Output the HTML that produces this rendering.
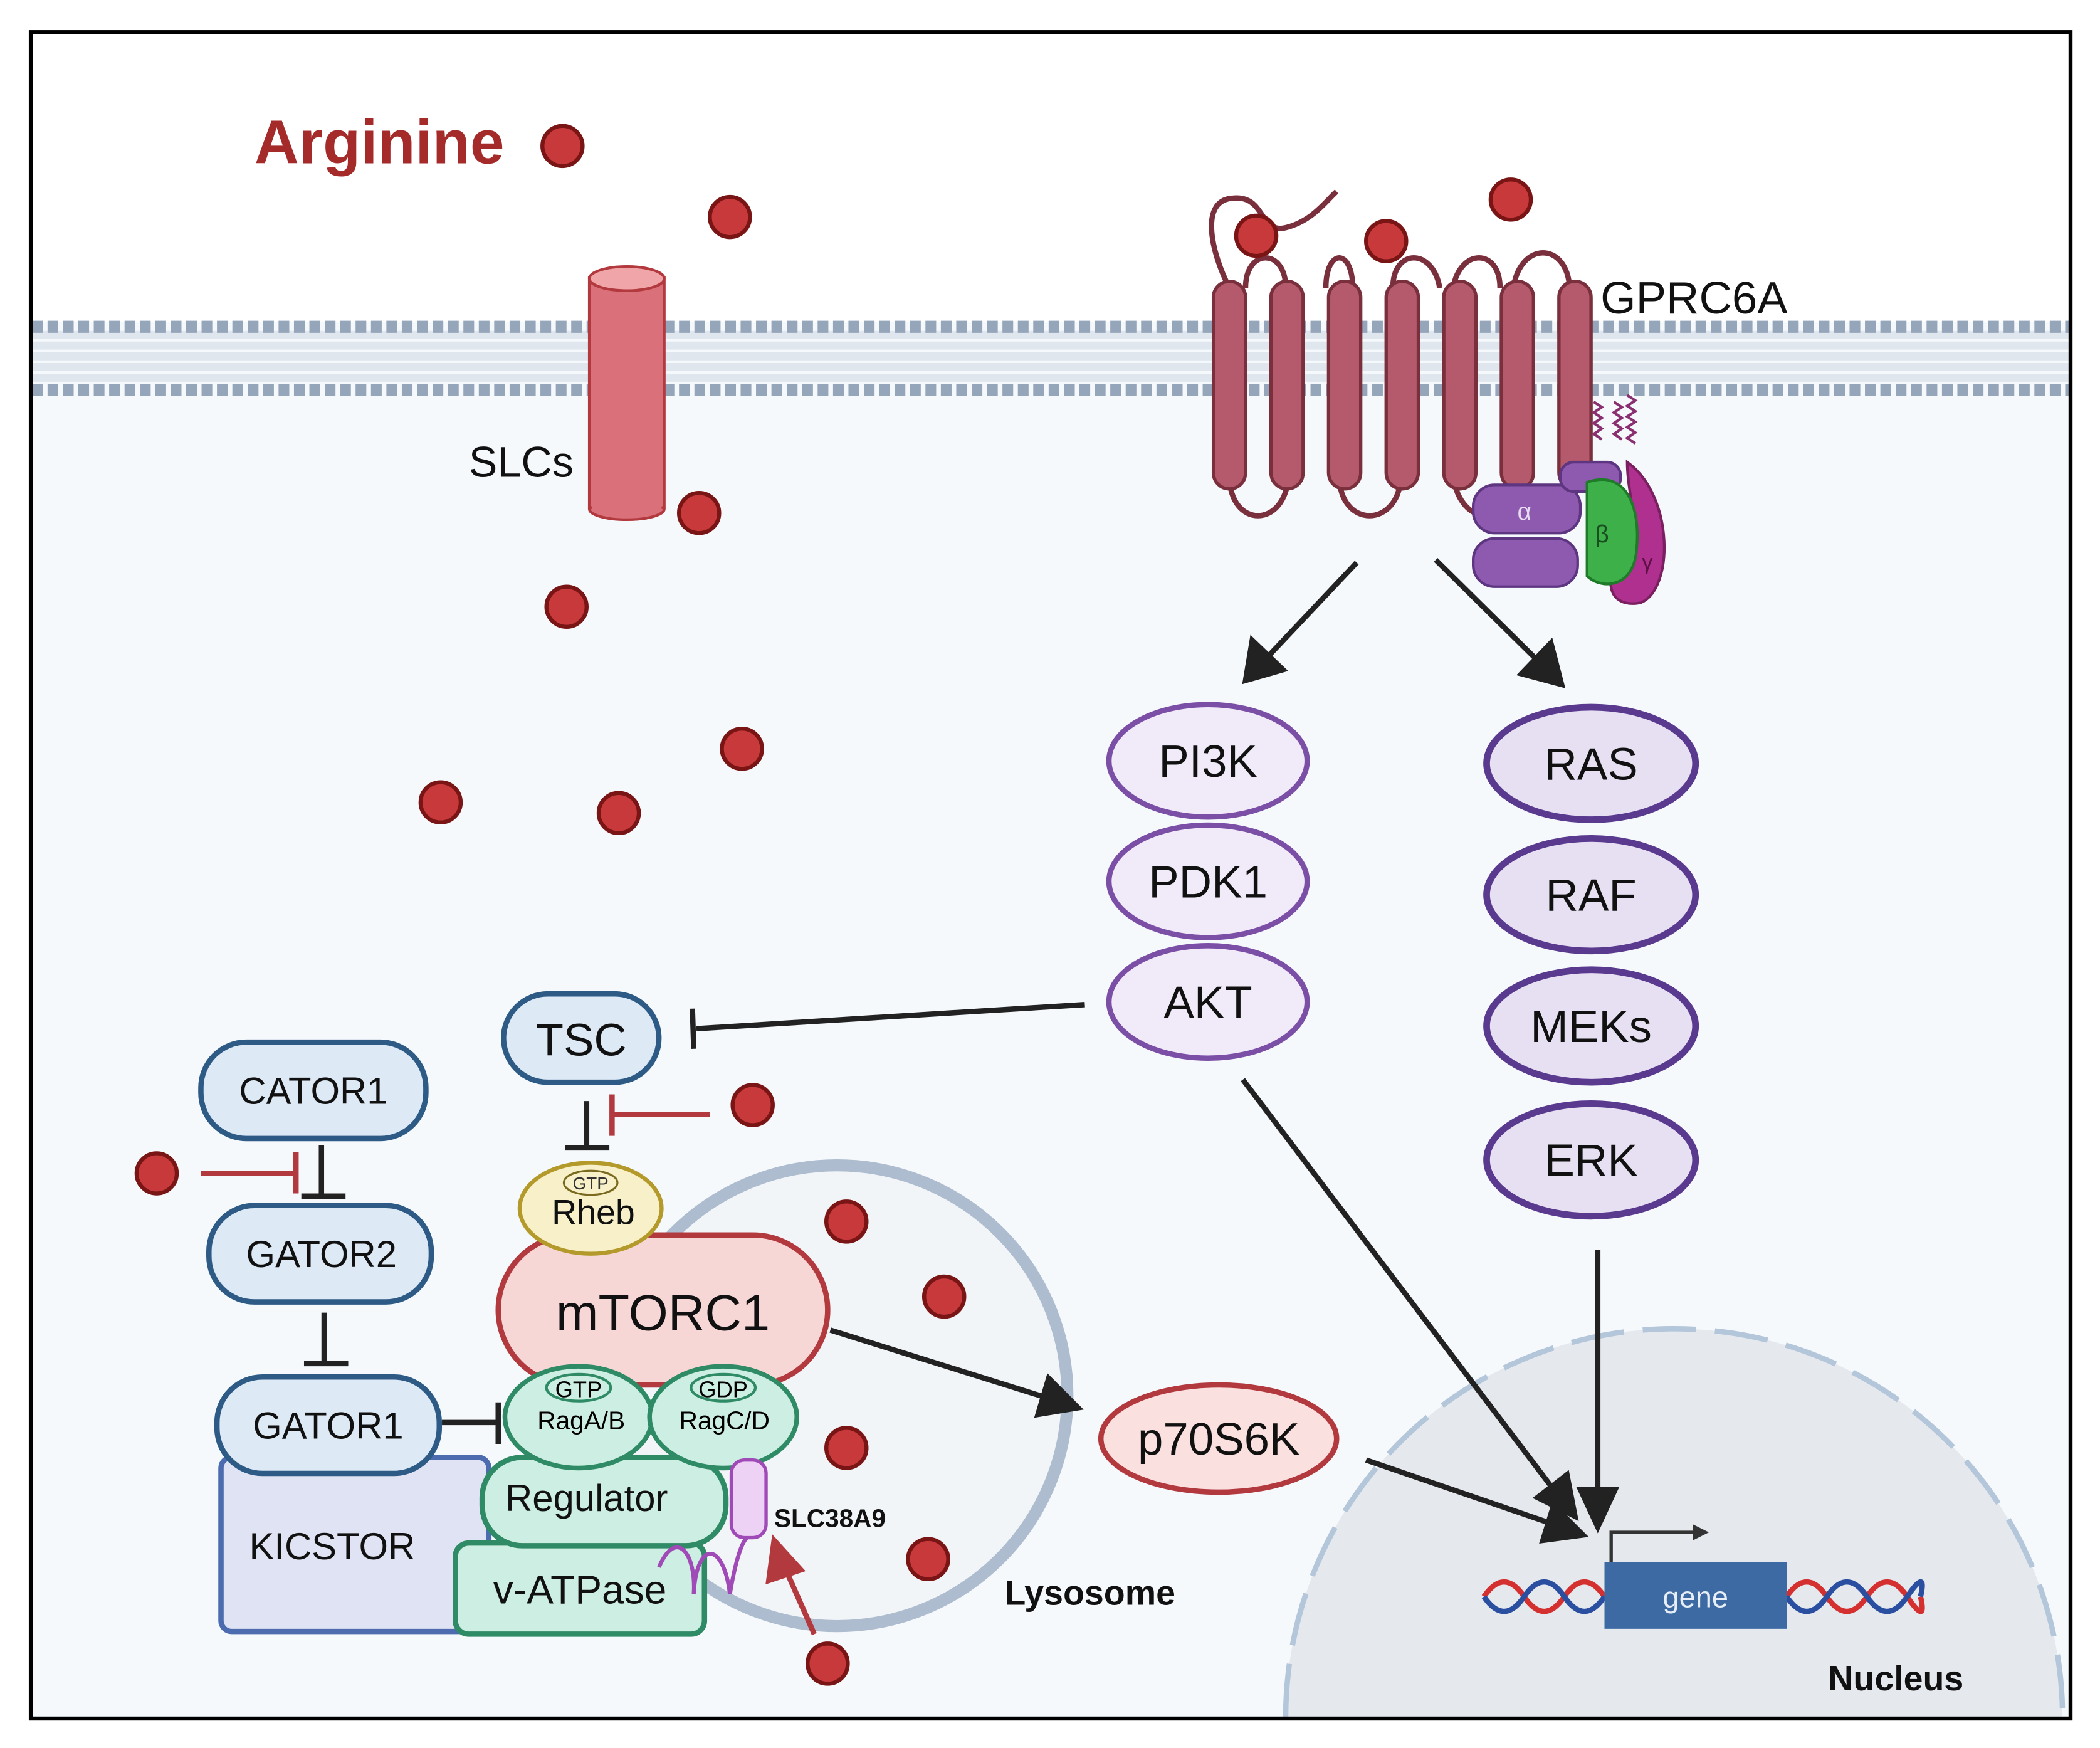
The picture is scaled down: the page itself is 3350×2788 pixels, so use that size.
<!DOCTYPE html>
<html><head><meta charset="utf-8"><style>html,body{margin:0;padding:0;background:#fff;width:3350px;height:2788px;overflow:hidden}svg{display:block}text{font-family:"Liberation Sans",sans-serif}</style></head>
<body>
<svg width="3350" height="2788" viewBox="0 0 1568 1305" preserveAspectRatio="none" xmlns="http://www.w3.org/2000/svg">
<rect x="0" y="0" width="1568" height="1305" fill="#fff"/>
<rect x="24" y="240" width="1521" height="1042" fill="#f5f9fc"/>
<path d="M24 250 H1545 M24 258 H1545 M24 266 H1545 M24 274 H1545 M24 282 H1545" stroke="#dfe6ee" stroke-width="6"/>
<line x1="24" y1="244" x2="1545" y2="244" stroke="#95a5ba" stroke-width="9" stroke-dasharray="8 3.5"/>
<line x1="24" y1="291" x2="1545" y2="291" stroke="#95a5ba" stroke-width="9" stroke-dasharray="8 3.5"/>
<!-- nucleus -->
<path d="M960 1282 A290 290 0 0 1 1540 1282 Z" fill="#e5e9ee"/>
<path d="M960 1282 A290 290 0 0 1 1540 1282" fill="none" stroke="#b4c6da" stroke-width="4" stroke-dasharray="40 14"/>
<!-- lysosome -->
<circle cx="625" cy="1042" r="172" fill="#f2f5f8" stroke="#aebcd0" stroke-width="9"/>
<!-- SLC -->
<ellipse cx="468" cy="380" rx="28" ry="8" fill="#d9707a" stroke="#b23a3f" stroke-width="2"/>
<rect x="440" y="207" width="56" height="172" fill="#d9707a" stroke="#b23a3f" stroke-width="2"/>
<rect x="442" y="207" width="52" height="174" fill="#d9707a"/>
<ellipse cx="468" cy="208" rx="28" ry="9" fill="#f0a5a8" stroke="#b23a3f" stroke-width="2"/>
<text x="350" y="356" font-size="32" fill="#111">SLCs</text>
<!-- GPCR -->
<g fill="none" stroke="#7a2f3d" stroke-width="4">
<path d="M918 215 C905 190 895 150 920 148 C945 145 940 175 960 170 C980 165 990 150 998 143"/>
<path d="M930 215 C930 185 960 185 960 215 M990 215 C990 185 1010 185 1010 215 M1040 215 C1040 185 1070 185 1075 215 M1085 215 C1090 185 1120 185 1120 215 M1130 215 C1135 180 1170 180 1172 215"/>
<path d="M918 355 C918 395 960 395 962 355 M1000 355 C1000 395 1045 395 1046 355 M1085 355 C1090 395 1130 395 1132 355"/>
</g>
<g fill="#b45a6c" stroke="#7a2f3d" stroke-width="2.5">
<rect x="906" y="210" width="24" height="155" rx="12"/>
<rect x="949" y="210" width="24" height="155" rx="12"/>
<rect x="992" y="210" width="24" height="155" rx="12"/>
<rect x="1035" y="210" width="24" height="155" rx="12"/>
<rect x="1078" y="210" width="24" height="155" rx="12"/>
<rect x="1121" y="210" width="24" height="155" rx="12"/>
<rect x="1164" y="210" width="24" height="155" rx="12"/>
</g>
<text x="1195" y="234" font-size="34" fill="#111">GPRC6A</text>
<path d="M1190 300 l6 4 -6 4 6 4 -6 4 6 4 -6 4 6 4 M1205 300 l6 4 -6 4 6 4 -6 4 6 4 -6 4 6 4 M1215 295 l6 4 -6 4 6 4 -6 4 6 4 -6 4 6 4 -6 4 6 4" fill="none" stroke="#8a3070" stroke-width="2"/>
<path d="M1215 345 C1250 370 1250 440 1225 450 C1200 455 1195 430 1215 410 C1225 390 1215 370 1215 345Z" fill="#b0308f" stroke="#7a1f60" stroke-width="2"/>
<g fill="#8e5ab0" stroke="#5e3580" stroke-width="2">
<rect x="1100" y="362" width="80" height="36" rx="16"/>
<rect x="1100" y="402" width="78" height="36" rx="16"/>
<rect x="1165" y="345" width="45" height="22" rx="10"/>
</g>
<path d="M1185 360 C1215 350 1225 380 1222 410 C1220 440 1195 440 1185 430 Z" fill="#3db04a" stroke="#1f7a2a" stroke-width="2"/>
<text x="1133" y="388" font-size="18" fill="#e8dcf2">α</text>
<text x="1191" y="405" font-size="18" fill="#1a4d20">β</text>
<text x="1226" y="425" font-size="16" fill="#5e1045">γ</text>
<g stroke="#222" stroke-width="4" fill="#222">
<line x1="1013" y1="420" x2="945" y2="492"/><path d="M930 508 L935 478 L958 500Z"/>
<line x1="1072" y1="418" x2="1150" y2="495"/><path d="M1166 511 L1136 503 L1158 480Z"/>
<line x1="810" y1="750" x2="520" y2="768"/><line x1="517" y1="753" x2="518" y2="783"/>
<line x1="928" y1="806" x2="1160" y2="1112"/><path d="M1176 1132 L1148 1118 L1170 1101Z"/>
<line x1="1193" y1="933" x2="1193" y2="1120"/><path d="M1193 1140 L1180 1112 L1206 1112Z"/>
<line x1="1020" y1="1090" x2="1160" y2="1138"/><path d="M1182 1146 L1152 1150 L1160 1124Z"/>
<line x1="620" y1="993" x2="780" y2="1043"/><path d="M805 1051 L775 1056 L783 1029Z"/>
<line x1="438" y1="822" x2="438" y2="855"/><line x1="422" y1="857" x2="455" y2="857"/>
<line x1="240" y1="855" x2="240" y2="892"/><line x1="225" y1="893" x2="258" y2="893"/>
<line x1="242" y1="980" x2="242" y2="1017"/><line x1="227" y1="1018" x2="260" y2="1018"/>
<line x1="330" y1="1062" x2="370" y2="1062"/><line x1="372" y1="1047" x2="372" y2="1078"/>
</g>
<g stroke="#b23a3f" stroke-width="4" fill="#b23a3f">
<line x1="530" y1="832" x2="458" y2="832"/><line x1="457" y1="817" x2="457" y2="848"/>
<line x1="150" y1="876" x2="220" y2="876"/><line x1="221" y1="860" x2="221" y2="891"/>
<line x1="608" y1="1220" x2="585" y2="1168"/><path d="M578 1150 L598 1172 L574 1180Z"/>
</g>
<g fill="#f1eaf8" stroke="#7c4fa7" stroke-width="4">
<ellipse cx="902" cy="568" rx="74" ry="42"/>
<ellipse cx="902" cy="658" rx="74" ry="42"/>
<ellipse cx="902" cy="748" rx="74" ry="42"/>
</g>
<g fill="#e6e0f2" stroke="#5a3a8f" stroke-width="5">
<ellipse cx="1188" cy="570" rx="78" ry="42"/>
<ellipse cx="1188" cy="668" rx="78" ry="42"/>
<ellipse cx="1188" cy="766" rx="78" ry="42"/>
<ellipse cx="1188" cy="866" rx="78" ry="42"/>
</g>
<g font-size="34" fill="#111" text-anchor="middle">
<text x="902" y="580">PI3K</text><text x="902" y="670">PDK1</text><text x="902" y="760">AKT</text>
<text x="1188" y="582">RAS</text><text x="1188" y="680">RAF</text><text x="1188" y="778">MEKs</text><text x="1188" y="878">ERK</text>
</g>
<ellipse cx="910" cy="1074" rx="88" ry="40" fill="#fbe0e0" stroke="#b23a3f" stroke-width="4"/>
<text x="910" y="1086" font-size="34" text-anchor="middle" fill="#111">p70S6K</text>
<g fill="#dde9f5" stroke="#2e5a86" stroke-width="4">
<rect x="376" y="742" width="116" height="66" rx="33"/>
<rect x="150" y="778" width="168" height="72" rx="34"/>
<rect x="156" y="900" width="166" height="72" rx="34"/>
</g>
<rect x="165" y="1088" width="200" height="130" rx="8" fill="#dfe3f4" stroke="#4d6cb0" stroke-width="4"/>
<rect x="162" y="1028" width="166" height="72" rx="34" fill="#dde9f5" stroke="#2e5a86" stroke-width="4"/>
<g font-size="28" fill="#111" text-anchor="middle">
<text x="434" y="788" font-size="34">TSC</text>
<text x="234" y="824">CATOR1</text>
<text x="240" y="946">GATOR2</text>
<text x="245" y="1074">GATOR1</text>
<text x="248" y="1164">KICSTOR</text>
</g>
<rect x="372" y="922" width="246" height="112" rx="56" fill="#f7d6d6" stroke="#b23a3f" stroke-width="4"/>
<text x="495" y="993" font-size="38" text-anchor="middle" fill="#111">mTORC1</text>
<ellipse cx="441" cy="902" rx="53" ry="34" fill="#f7f0c8" stroke="#b39a2a" stroke-width="3"/>
<ellipse cx="441" cy="883" rx="20" ry="9" fill="#f7f0c8" stroke="#7a6a20" stroke-width="1.5"/>
<text x="441" y="888" font-size="13" text-anchor="middle" fill="#333">GTP</text>
<text x="443" y="914" font-size="26" text-anchor="middle" fill="#111">Rheb</text>
<rect x="340" y="1152" width="186" height="68" rx="10" fill="#cdeee2" stroke="#2f8a66" stroke-width="4"/>
<text x="433" y="1197" font-size="30" text-anchor="middle" fill="#111">v-ATPase</text>
<rect x="360" y="1088" width="182" height="66" rx="30" fill="#cdeee2" stroke="#2f8a66" stroke-width="4"/>
<text x="438" y="1128" font-size="28" text-anchor="middle" fill="#111">Regulator</text>
<ellipse cx="432" cy="1058" rx="55" ry="38" fill="#cdeee2" stroke="#2f8a66" stroke-width="3.5"/>
<ellipse cx="540" cy="1058" rx="55" ry="38" fill="#cdeee2" stroke="#2f8a66" stroke-width="3.5"/>
<ellipse cx="432" cy="1036" rx="24" ry="10" fill="#cdeee2" stroke="#2f8a66" stroke-width="2"/>
<ellipse cx="540" cy="1036" rx="24" ry="10" fill="#cdeee2" stroke="#2f8a66" stroke-width="2"/>
<text x="432" y="1043" font-size="17" text-anchor="middle">GTP</text>
<text x="540" y="1043" font-size="17" text-anchor="middle">GDP</text>
<text x="434" y="1067" font-size="19" text-anchor="middle">RagA/B</text>
<text x="541" y="1067" font-size="19" text-anchor="middle">RagC/D</text>
<rect x="546" y="1090" width="26" height="58" rx="10" fill="#eed2f5" stroke="#a04ab8" stroke-width="2.5"/>
<path d="M492 1170 C505 1140 520 1160 518 1190 C520 1150 540 1150 545 1190 C550 1160 555 1150 558 1148" fill="none" stroke="#a04ab8" stroke-width="3"/>
<text x="578" y="1140" font-size="19" font-weight="bold" fill="#111">SLC38A9</text>
<text x="750" y="1198" font-size="26" font-weight="bold" fill="#111">Lysosome</text>
<g fill="none" stroke-width="4">
<path d="M1108 1192 q15 -22 30 0 t30 0 t30 0 M1334 1192 q15 -22 30 0 t30 0 t30 0 t10 0" stroke="#d43030"/>
<path d="M1108 1192 q15 22 30 0 t30 0 t30 0 M1334 1192 q15 22 30 0 t30 0 t30 0 t10 0" stroke="#2b4fa0"/>
</g>
<rect x="1198" y="1166" width="136" height="50" fill="#3e6aa3"/>
<text x="1266" y="1200" font-size="22" text-anchor="middle" fill="#e8eef6">gene</text>
<path d="M1203 1166 V1144 H1268" fill="none" stroke="#333" stroke-width="2.5"/><path d="M1276 1144 L1264 1138 L1264 1150Z" fill="#333"/>
<text x="1365" y="1262" font-size="26" font-weight="bold" fill="#111">Nucleus</text>
<g fill="#c8393c" stroke="#7a1515" stroke-width="3">
<circle cx="420" cy="109" r="15"/><circle cx="545" cy="162" r="15"/><circle cx="938" cy="176" r="15"/><circle cx="1035" cy="180" r="15"/><circle cx="1128" cy="149" r="15"/>
<circle cx="522" cy="383" r="15"/><circle cx="423" cy="453" r="15"/><circle cx="554" cy="559" r="15"/><circle cx="329" cy="599" r="15"/><circle cx="462" cy="607" r="15"/>
<circle cx="562" cy="825" r="15"/><circle cx="117" cy="876" r="15"/><circle cx="632" cy="912" r="15"/><circle cx="705" cy="968" r="15"/><circle cx="632" cy="1081" r="15"/><circle cx="693" cy="1164" r="15"/><circle cx="618" cy="1242" r="15"/>
</g>
<text x="190" y="122" font-size="46" font-weight="bold" fill="#a52a2a">Arginine</text>
<rect x="23" y="24" width="1523" height="1259" fill="none" stroke="#000" stroke-width="3"/>
</svg>
</body></html>
